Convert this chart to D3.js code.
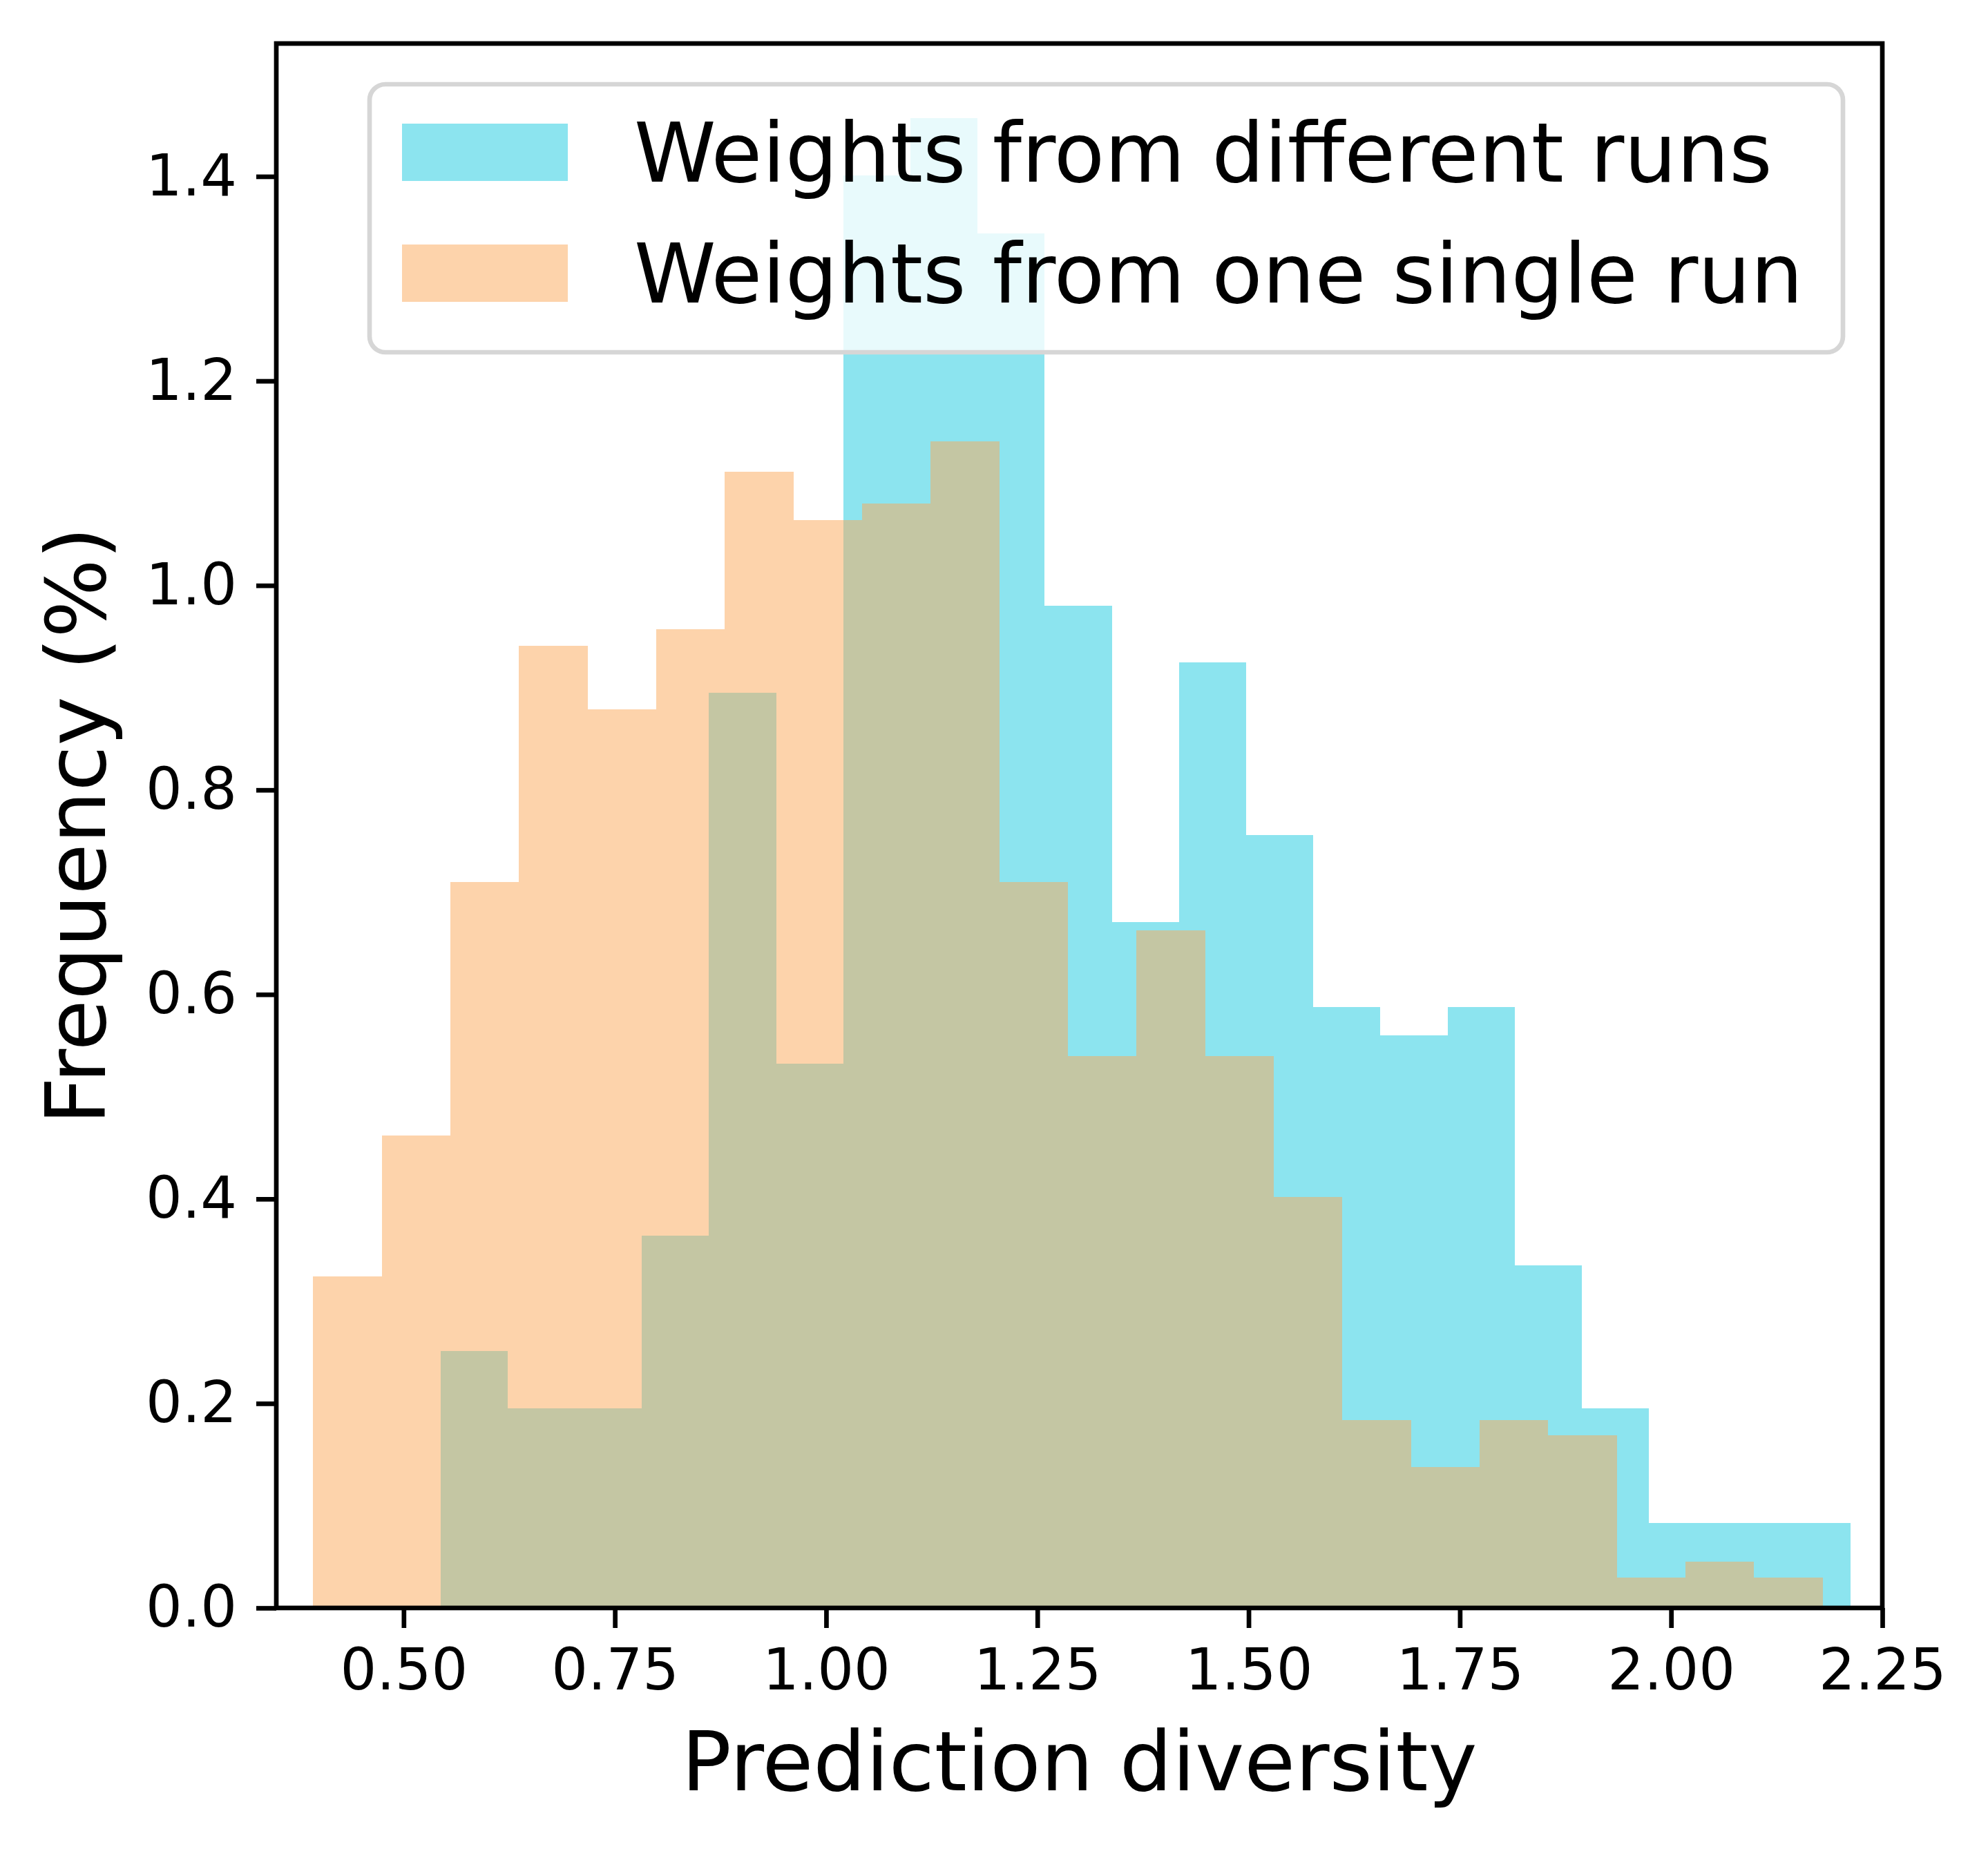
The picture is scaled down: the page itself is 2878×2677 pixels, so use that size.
<!DOCTYPE html>
<html>
<head>
<meta charset="utf-8">
<script src="https://cdn.jsdelivr.net/npm/d3@7"></script>
<style>
  body { margin: 0; background: #fff; }
  svg { display: block; }
</style>
</head>
<body>
<div id="chart"></div>
<script>
// Histogram bin edges and heights (%)
var multiEdges = [0.5435, 0.6230, 0.7024, 0.7819, 0.8613, 0.9408, 1.0203, 1.0997, 1.1792, 1.2586, 1.3381,
    1.4176, 1.4970, 1.5765, 1.6559, 1.7354, 1.8149, 1.8943, 1.9738, 2.0532, 2.1327, 2.2121];
var multiValues = [0.251, 0.195, 0.195, 0.364, 0.895, 0.532, 1.401, 1.457, 1.344, 0.980, 0.671,
    0.925, 0.756, 0.588, 0.560, 0.588, 0.335, 0.195, 0.083, 0.083, 0.083];

var singleEdges = [0.3930, 0.4742, 0.5554, 0.6366, 0.7178, 0.7990, 0.8802, 0.9614, 1.0426, 1.1238, 1.2050, 1.2862,
    1.3674, 1.4486, 1.5298, 1.6110, 1.6922, 1.7734, 1.8546, 1.9358, 2.0170, 2.0982, 2.1794];
var singleValues = [0.324, 0.462, 0.710, 0.941, 0.879, 0.957, 1.111, 1.064, 1.080, 1.141, 0.710,
    0.540, 0.663, 0.540, 0.402, 0.184, 0.138, 0.184, 0.169, 0.030, 0.045, 0.030];

var xTicks = [0.50, 0.75, 1.00, 1.25, 1.50, 1.75, 2.00, 2.25];
var yTicks = [0.0, 0.2, 0.4, 0.6, 0.8, 1.0, 1.2, 1.4];
var legendLabels = ["Weights from different runs", "Weights from one single run"];

var W = 2878, H = 2677;
var plotLeft = 400, plotRight = 2725, plotTop = 63, plotBottom = 2328;
var font = "DejaVu Sans, Liberation Sans, sans-serif";
var cyanFill = "#8ce4ef";
var orangeFill = "rgb(251,168,88)";

var svg = d3.select("#chart").append("svg")
    .attr("width", W)
    .attr("height", H);

var x = d3.scaleLinear().domain([0.3493, 2.25]).range([plotLeft, plotRight]);
var y = d3.scaleLinear().domain([0, 1.530]).range([plotBottom, plotTop]);

function bins(edges, values) {
    return values.map(function (v, i) {
        return { x0: edges[i], x1: edges[i + 1], v: v };
    });
}

//Cyan histogram first, orange drawn over it with transparency
svg.append("g").selectAll("rect")
    .data(bins(multiEdges, multiValues))
    .join("rect")
    .attr("x", function (d) { return x(d.x0); })
    .attr("y", function (d) { return y(d.v); })
    .attr("width", function (d) { return x(d.x1) - x(d.x0); })
    .attr("height", function (d) { return y(0) - y(d.v); })
    .attr("fill", cyanFill)
    .attr("shape-rendering", "crispEdges");

svg.append("g").selectAll("rect")
    .data(bins(singleEdges, singleValues))
    .join("rect")
    .attr("x", function (d) { return x(d.x0); })
    .attr("y", function (d) { return y(d.v); })
    .attr("width", function (d) { return x(d.x1) - x(d.x0); })
    .attr("height", function (d) { return y(0) - y(d.v); })
    .attr("fill", orangeFill)
    .attr("fill-opacity", 0.5)
    .attr("shape-rendering", "crispEdges");

//Axes
var xAxis = d3.axisBottom(x).tickValues(xTicks).tickFormat(d3.format(".2f"))
    .tickSize(29).tickPadding(30).tickSizeOuter(0);
var yAxis = d3.axisLeft(y).tickValues(yTicks).tickFormat(d3.format(".1f"))
    .tickSize(29).tickPadding(28).tickSizeOuter(0);

var gx = svg.append("g").attr("transform", "translate(0," + plotBottom + ")").call(xAxis);
var gy = svg.append("g").attr("transform", "translate(" + plotLeft + ",0)").call(yAxis);

[gx, gy].forEach(function (g) {
    g.select(".domain").remove();
    g.selectAll(".tick line").attr("stroke", "#000").attr("stroke-width", 6.7);
    g.selectAll(".tick text")
        .attr("fill", "#000")
        .attr("font-family", font)
        .attr("font-size", 83);
});
gx.selectAll(".tick text").attr("dy", "0.71em");

//Frame
svg.append("rect")
    .attr("x", plotLeft)
    .attr("y", plotTop)
    .attr("width", plotRight - plotLeft)
    .attr("height", plotBottom - plotTop)
    .attr("fill", "none")
    .attr("stroke", "#000")
    .attr("stroke-width", 6.7)
    .attr("stroke-linecap", "square");

//Axis titles
svg.append("text")
    .attr("x", (plotLeft + plotRight) / 2)
    .attr("y", 2592)
    .attr("text-anchor", "middle")
    .attr("font-family", font)
    .attr("font-size", 120)
    .text("Prediction diversity");

svg.append("text")
    .attr("transform", "translate(152," + (plotTop + plotBottom) / 2 + ") rotate(-90)")
    .attr("text-anchor", "middle")
    .attr("font-family", font)
    .attr("font-size", 120)
    .text("Frequency (%)");

//Legend
var legend = svg.append("g");
legend.append("rect")
    .attr("x", 535)
    .attr("y", 122)
    .attr("width", 2668 - 535)
    .attr("height", 510 - 122)
    .attr("rx", 23)
    .attr("fill", "#fff")
    .attr("fill-opacity", 0.8)
    .attr("stroke", "#d6d6d6")
    .attr("stroke-width", 6.7);

var legendFills = [cyanFill, orangeFill];
var legendOpacity = [1, 0.5];
legendLabels.forEach(function (label, i) {
    var rowY = 220 + i * 175;
    legend.append("rect")
        .attr("x", 582)
        .attr("y", rowY - 41)
        .attr("width", 240)
        .attr("height", 83)
        .attr("fill", legendFills[i])
        .attr("fill-opacity", legendOpacity[i]);
    legend.append("text")
        .attr("x", 918)
        .attr("y", rowY + 43)
        .attr("font-family", font)
        .attr("font-size", 120)
        .attr("fill", "#000")
        .text(label);
});
</script>
</body>
</html>
